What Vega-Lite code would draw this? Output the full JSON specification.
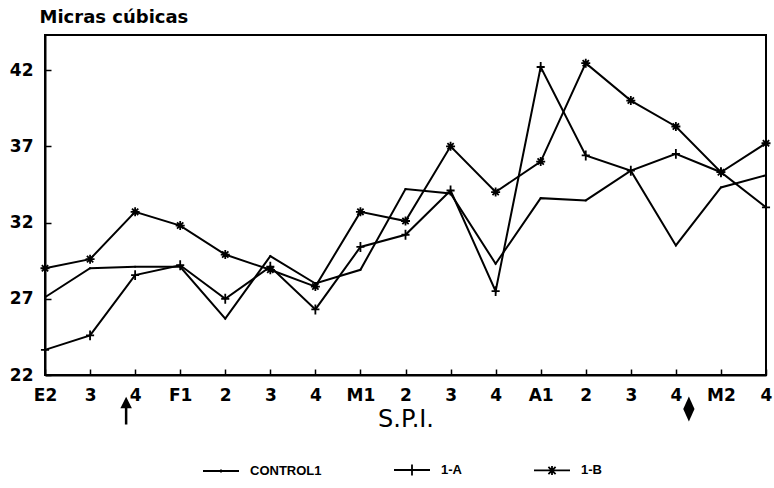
{
  "$schema": "https://vega.github.io/schema/vega-lite/v6.json",
  "width": 721,
  "height": 340,
  "autosize": {"type": "none"},
  "padding": {"left": 45, "top": 35, "right": 8, "bottom": 113},
  "background": "white",
  "config": {
    "view": {"stroke": "black", "strokeWidth": 2},
    "axis": {
      "domainColor": "black", "domainWidth": 2,
      "tickColor": "black", "tickWidth": 1.5, "tickSize": -6,
      "labelColor": "black", "labelFont": "DejaVu Sans", "labelFontWeight": "bold", "labelFontSize": 17,
      "titleColor": "black", "grid": false
    }
  },
  "datasets": {
    "main": [
      {"k": "E2|0", "series": "CONTROL1", "v": 27.1},
      {"k": "3|1", "series": "CONTROL1", "v": 29.0},
      {"k": "4|2", "series": "CONTROL1", "v": 29.1},
      {"k": "F1|3", "series": "CONTROL1", "v": 29.1},
      {"k": "2|4", "series": "CONTROL1", "v": 25.7},
      {"k": "3|5", "series": "CONTROL1", "v": 29.8},
      {"k": "4|6", "series": "CONTROL1", "v": 28.0},
      {"k": "M1|7", "series": "CONTROL1", "v": 28.9},
      {"k": "2|8", "series": "CONTROL1", "v": 34.2},
      {"k": "3|9", "series": "CONTROL1", "v": 33.9},
      {"k": "4|10", "series": "CONTROL1", "v": 29.3},
      {"k": "A1|11", "series": "CONTROL1", "v": 33.6},
      {"k": "2|12", "series": "CONTROL1", "v": 33.45},
      {"k": "3|13", "series": "CONTROL1", "v": 35.4},
      {"k": "4|14", "series": "CONTROL1", "v": 30.5},
      {"k": "M2|15", "series": "CONTROL1", "v": 34.3},
      {"k": "4|16", "series": "CONTROL1", "v": 35.1},
      {"k": "E2|0", "series": "1-A", "v": 23.65},
      {"k": "3|1", "series": "1-A", "v": 24.6},
      {"k": "4|2", "series": "1-A", "v": 28.55},
      {"k": "F1|3", "series": "1-A", "v": 29.2},
      {"k": "2|4", "series": "1-A", "v": 27.0},
      {"k": "3|5", "series": "1-A", "v": 29.1},
      {"k": "4|6", "series": "1-A", "v": 26.3},
      {"k": "M1|7", "series": "1-A", "v": 30.4},
      {"k": "2|8", "series": "1-A", "v": 31.2},
      {"k": "3|9", "series": "1-A", "v": 34.1},
      {"k": "4|10", "series": "1-A", "v": 27.5},
      {"k": "A1|11", "series": "1-A", "v": 42.2},
      {"k": "2|12", "series": "1-A", "v": 36.4},
      {"k": "3|13", "series": "1-A", "v": 35.4},
      {"k": "4|14", "series": "1-A", "v": 36.5},
      {"k": "M2|15", "series": "1-A", "v": 35.3},
      {"k": "4|16", "series": "1-A", "v": 33.0},
      {"k": "E2|0", "series": "1-B", "v": 29.0},
      {"k": "3|1", "series": "1-B", "v": 29.6},
      {"k": "4|2", "series": "1-B", "v": 32.7},
      {"k": "F1|3", "series": "1-B", "v": 31.8},
      {"k": "2|4", "series": "1-B", "v": 29.9},
      {"k": "3|5", "series": "1-B", "v": 28.9},
      {"k": "4|6", "series": "1-B", "v": 27.8},
      {"k": "M1|7", "series": "1-B", "v": 32.7},
      {"k": "2|8", "series": "1-B", "v": 32.1},
      {"k": "3|9", "series": "1-B", "v": 37.0},
      {"k": "4|10", "series": "1-B", "v": 34.0},
      {"k": "A1|11", "series": "1-B", "v": 36.0},
      {"k": "2|12", "series": "1-B", "v": 42.45},
      {"k": "3|13", "series": "1-B", "v": 40.0},
      {"k": "4|14", "series": "1-B", "v": 38.3},
      {"k": "M2|15", "series": "1-B", "v": 35.3},
      {"k": "4|16", "series": "1-B", "v": 37.2}
    ]
  },
  "data": {"name": "main"},
  "encoding": {
    "x": {
      "field": "k", "type": "nominal",
      "scale": {"type": "point", "padding": 0, "domain": ["E2|0","3|1","4|2","F1|3","2|4","3|5","4|6","M1|7","2|8","3|9","4|10","A1|11","2|12","3|13","4|14","M2|15","4|16"]},
      "axis": {
        "title": "S.P.I.", "labelExpr": "split(datum.value, '|')[0]", "labelAngle": 0,
        "labelPadding": 18, "titleFont": "DejaVu Sans", "titleFontWeight": "normal", "titleFontSize": 24, "titlePadding": 4
      }
    },
    "y": {
      "field": "v", "type": "quantitative",
      "scale": {"domain": [22, 44.3], "nice": false, "zero": false},
      "axis": {
        "title": "Micras cúbicas", "values": [22, 27, 32, 37, 42], "labelPadding": 18,
        "titleAngle": 0, "titleAlign": "left", "titleBaseline": "middle", "titleX": -6, "titleY": -18,
        "titleFont": "DejaVu Sans", "titleFontWeight": "bold", "titleFontSize": 18
      }
    }
  },
  "layer": [
    {
      "mark": {"type": "line", "stroke": "black", "strokeWidth": 2},
      "encoding": {"detail": {"field": "series"}}
    },
    {
      "mark": {"type": "point", "filled": false, "stroke": "black", "strokeWidth": 1.8, "size": 81, "opacity": 1},
      "encoding": {
        "shape": {
          "field": "series", "type": "nominal",
          "scale": {"domain": ["CONTROL1", "1-A", "1-B"], "range": ["M-0.2,0L0.2,0", "M-0.9,0L0.9,0M0,-1.1L0,1.1", "M-1,0L1,0M0,-1L0,1M-0.7,-0.7L0.7,0.7M-0.7,0.7L0.7,-0.7"]},
          "legend": null
        }
      }
    },
    {
      "mark": {"type": "point", "filled": false, "stroke": "black", "strokeWidth": 1.8, "size": 1, "opacity": 0},
      "encoding": {
        "shape": {
          "field": "series", "type": "nominal",
          "scale": {"domain": ["CONTROL1", "1-A", "1-B"], "range": ["M-1,0L1,0M0,-0.08L0,0.08", "M-1,0L1,0M0,-0.3L0,0.3", "M-1,0L1,0M0,-0.25L0,0.25M-0.2,-0.2L0.2,0.2M-0.2,0.2L0.2,-0.2"]},
          "legend": {
            "title": null, "orient": "none", "direction": "horizontal", "legendX": 157, "legendY": 416,
            "symbolSize": 1296, "symbolOpacity": 1, "symbolStrokeColor": "black", "symbolStrokeWidth": 1.8, "symbolFillColor": "transparent",
            "labelFont": "Liberation Sans", "labelFontWeight": "bold", "labelFontSize": 13, "labelColor": "black",
            "labelOffset": 10, "columnPadding": 68, "padding": 0
          }
        }
      }
    },
    {
      "data": {"values": [{"k": "4|2", "v": 19.57}]},
      "mark": {"type": "point", "shape": "M0,1L0,-0.5M-0.3,-0.4L0,-1L0.3,-0.4Z", "size": 625, "filled": true, "fill": "black", "stroke": "black", "strokeWidth": 2.5, "opacity": 1, "xOffset": -9},
      "encoding": {}
    },
    {
      "data": {"values": [{"k": "4|14", "v": 19.77}]},
      "mark": {"type": "point", "shape": "M0,-1L0.45,0L0,1L-0.45,0Z", "size": 625, "filled": true, "fill": "black", "opacity": 1, "xOffset": 13},
      "encoding": {}
    }
  ],
  "resolve": {"scale": {"shape": "independent"}, "legend": {"shape": "independent"}}
}
